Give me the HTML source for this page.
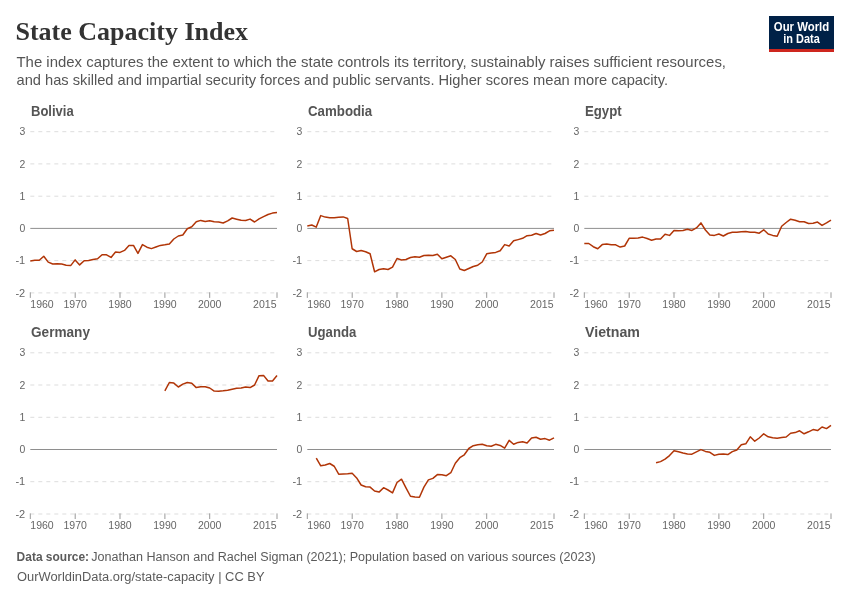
<!DOCTYPE html><html><head><meta charset="utf-8"><title>State Capacity Index</title><style>html,body{margin:0;padding:0;background:#fff;width:850px;height:600px;overflow:hidden}svg{display:block;will-change:transform}</style></head><body>
<svg width="850" height="600" viewBox="0 0 850 600">
<rect width="850" height="600" fill="#fff"/>
<text x="15.5" y="40.3" font-family='"Liberation Serif", serif' font-weight="bold" font-size="26" fill="#333" textLength="232.5" lengthAdjust="spacingAndGlyphs">State Capacity Index</text>
<text x="16.5" y="66.6" font-family='"Liberation Sans", sans-serif' font-size="14.2" fill="#555" textLength="709.5" lengthAdjust="spacingAndGlyphs">The index captures the extent to which the state controls its territory, sustainably raises sufficient resources,</text>
<text x="16.5" y="84.5" font-family='"Liberation Sans", sans-serif' font-size="14.2" fill="#555" textLength="651.5" lengthAdjust="spacingAndGlyphs">and has skilled and impartial security forces and public servants. Higher scores mean more capacity.</text>
<rect x="769" y="16" width="65" height="36" fill="#002147"/>
<rect x="769" y="49" width="65" height="3" fill="#ce261e"/>
<text x="773.8" y="30.7" font-family='"Liberation Sans", sans-serif' font-weight="bold" font-size="12.3" fill="#fff" textLength="55.4" lengthAdjust="spacingAndGlyphs">Our World</text>
<text x="783.3" y="42.9" font-family='"Liberation Sans", sans-serif' font-weight="bold" font-size="12.3" fill="#fff" textLength="36.5" lengthAdjust="spacingAndGlyphs">in Data</text>
<text x="31.0" y="115.9" font-family='"Liberation Sans", sans-serif' font-weight="bold" font-size="14" fill="#555" textLength="42.7" lengthAdjust="spacingAndGlyphs">Bolivia</text>
<line x1="30.3" y1="131.7" x2="277.0" y2="131.7" stroke="#ddd" stroke-width="1" stroke-dasharray="4,4"/>
<line x1="30.3" y1="163.9" x2="277.0" y2="163.9" stroke="#ddd" stroke-width="1" stroke-dasharray="4,4"/>
<line x1="30.3" y1="196.2" x2="277.0" y2="196.2" stroke="#ddd" stroke-width="1" stroke-dasharray="4,4"/>
<line x1="30.3" y1="260.6" x2="277.0" y2="260.6" stroke="#ddd" stroke-width="1" stroke-dasharray="4,4"/>
<line x1="30.3" y1="292.9" x2="277.0" y2="292.9" stroke="#ddd" stroke-width="1" stroke-dasharray="4,4"/>
<line x1="30.3" y1="228.4" x2="277.0" y2="228.4" stroke="#8e8e8e" stroke-width="1"/>
<text x="25.2" y="135.3" text-anchor="end" font-family='"Liberation Sans", sans-serif' font-size="10" fill="#666" textLength="5.8" lengthAdjust="spacingAndGlyphs">3</text>
<text x="25.2" y="167.5" text-anchor="end" font-family='"Liberation Sans", sans-serif' font-size="10" fill="#666" textLength="5.8" lengthAdjust="spacingAndGlyphs">2</text>
<text x="25.2" y="199.8" text-anchor="end" font-family='"Liberation Sans", sans-serif' font-size="10" fill="#666" textLength="5.8" lengthAdjust="spacingAndGlyphs">1</text>
<text x="25.2" y="232.0" text-anchor="end" font-family='"Liberation Sans", sans-serif' font-size="10" fill="#666" textLength="5.8" lengthAdjust="spacingAndGlyphs">0</text>
<text x="25.2" y="264.2" text-anchor="end" font-family='"Liberation Sans", sans-serif' font-size="10" fill="#666" textLength="9.8" lengthAdjust="spacingAndGlyphs">-1</text>
<text x="25.2" y="296.5" text-anchor="end" font-family='"Liberation Sans", sans-serif' font-size="10" fill="#666" textLength="9.8" lengthAdjust="spacingAndGlyphs">-2</text>
<line x1="30.3" y1="292.3" x2="30.3" y2="297.9" stroke="#999" stroke-width="1"/>
<line x1="75.2" y1="292.3" x2="75.2" y2="297.9" stroke="#999" stroke-width="1"/>
<line x1="120.0" y1="292.3" x2="120.0" y2="297.9" stroke="#999" stroke-width="1"/>
<line x1="164.9" y1="292.3" x2="164.9" y2="297.9" stroke="#999" stroke-width="1"/>
<line x1="209.7" y1="292.3" x2="209.7" y2="297.9" stroke="#999" stroke-width="1"/>
<line x1="277.0" y1="292.3" x2="277.0" y2="297.9" stroke="#999" stroke-width="1"/>
<text x="30.3" y="307.9" font-family='"Liberation Sans", sans-serif' font-size="10" fill="#666" textLength="23.4" lengthAdjust="spacingAndGlyphs">1960</text>
<text x="75.2" y="307.9" text-anchor="middle" font-family='"Liberation Sans", sans-serif' font-size="10" fill="#666" textLength="23.4" lengthAdjust="spacingAndGlyphs">1970</text>
<text x="120.0" y="307.9" text-anchor="middle" font-family='"Liberation Sans", sans-serif' font-size="10" fill="#666" textLength="23.4" lengthAdjust="spacingAndGlyphs">1980</text>
<text x="164.9" y="307.9" text-anchor="middle" font-family='"Liberation Sans", sans-serif' font-size="10" fill="#666" textLength="23.4" lengthAdjust="spacingAndGlyphs">1990</text>
<text x="209.7" y="307.9" text-anchor="middle" font-family='"Liberation Sans", sans-serif' font-size="10" fill="#666" textLength="23.4" lengthAdjust="spacingAndGlyphs">2000</text>
<text x="276.5" y="307.9" text-anchor="end" font-family='"Liberation Sans", sans-serif' font-size="10" fill="#666" textLength="23.4" lengthAdjust="spacingAndGlyphs">2015</text>
<polyline points="30.30,260.90 34.79,260.30 39.27,260.30 43.76,256.30 48.24,262.10 52.73,264.00 57.21,263.70 61.70,264.00 66.18,265.20 70.67,265.60 75.15,259.90 79.64,264.90 84.13,260.70 88.61,260.60 93.10,259.60 97.58,258.80 102.07,254.70 106.55,254.80 111.04,257.40 115.52,252.00 120.01,252.40 124.49,250.40 128.98,245.60 133.47,245.40 137.95,253.40 142.44,244.60 146.92,247.20 151.41,248.60 155.89,247.00 160.38,245.40 164.86,244.80 169.35,244.00 173.83,239.00 178.32,236.00 182.81,235.00 187.29,228.75 191.78,226.80 196.26,221.80 200.75,220.40 205.23,221.50 209.72,220.80 214.20,221.80 218.69,222.10 223.17,222.95 227.66,220.90 232.15,218.00 236.63,219.20 241.12,220.30 245.60,220.50 250.09,219.10 254.57,222.00 259.06,218.90 263.54,216.60 268.03,214.50 272.51,213.10 277.00,212.40" fill="none" stroke="#b13507" stroke-width="1.5" stroke-linejoin="round" stroke-linecap="butt"/>
<text x="308.0" y="115.9" font-family='"Liberation Sans", sans-serif' font-weight="bold" font-size="14" fill="#555" textLength="64.2" lengthAdjust="spacingAndGlyphs">Cambodia</text>
<line x1="307.3" y1="131.7" x2="554.0" y2="131.7" stroke="#ddd" stroke-width="1" stroke-dasharray="4,4"/>
<line x1="307.3" y1="163.9" x2="554.0" y2="163.9" stroke="#ddd" stroke-width="1" stroke-dasharray="4,4"/>
<line x1="307.3" y1="196.2" x2="554.0" y2="196.2" stroke="#ddd" stroke-width="1" stroke-dasharray="4,4"/>
<line x1="307.3" y1="260.6" x2="554.0" y2="260.6" stroke="#ddd" stroke-width="1" stroke-dasharray="4,4"/>
<line x1="307.3" y1="292.9" x2="554.0" y2="292.9" stroke="#ddd" stroke-width="1" stroke-dasharray="4,4"/>
<line x1="307.3" y1="228.4" x2="554.0" y2="228.4" stroke="#8e8e8e" stroke-width="1"/>
<text x="302.2" y="135.3" text-anchor="end" font-family='"Liberation Sans", sans-serif' font-size="10" fill="#666" textLength="5.8" lengthAdjust="spacingAndGlyphs">3</text>
<text x="302.2" y="167.5" text-anchor="end" font-family='"Liberation Sans", sans-serif' font-size="10" fill="#666" textLength="5.8" lengthAdjust="spacingAndGlyphs">2</text>
<text x="302.2" y="199.8" text-anchor="end" font-family='"Liberation Sans", sans-serif' font-size="10" fill="#666" textLength="5.8" lengthAdjust="spacingAndGlyphs">1</text>
<text x="302.2" y="232.0" text-anchor="end" font-family='"Liberation Sans", sans-serif' font-size="10" fill="#666" textLength="5.8" lengthAdjust="spacingAndGlyphs">0</text>
<text x="302.2" y="264.2" text-anchor="end" font-family='"Liberation Sans", sans-serif' font-size="10" fill="#666" textLength="9.8" lengthAdjust="spacingAndGlyphs">-1</text>
<text x="302.2" y="296.5" text-anchor="end" font-family='"Liberation Sans", sans-serif' font-size="10" fill="#666" textLength="9.8" lengthAdjust="spacingAndGlyphs">-2</text>
<line x1="307.3" y1="292.3" x2="307.3" y2="297.9" stroke="#999" stroke-width="1"/>
<line x1="352.2" y1="292.3" x2="352.2" y2="297.9" stroke="#999" stroke-width="1"/>
<line x1="397.0" y1="292.3" x2="397.0" y2="297.9" stroke="#999" stroke-width="1"/>
<line x1="441.9" y1="292.3" x2="441.9" y2="297.9" stroke="#999" stroke-width="1"/>
<line x1="486.7" y1="292.3" x2="486.7" y2="297.9" stroke="#999" stroke-width="1"/>
<line x1="554.0" y1="292.3" x2="554.0" y2="297.9" stroke="#999" stroke-width="1"/>
<text x="307.3" y="307.9" font-family='"Liberation Sans", sans-serif' font-size="10" fill="#666" textLength="23.4" lengthAdjust="spacingAndGlyphs">1960</text>
<text x="352.2" y="307.9" text-anchor="middle" font-family='"Liberation Sans", sans-serif' font-size="10" fill="#666" textLength="23.4" lengthAdjust="spacingAndGlyphs">1970</text>
<text x="397.0" y="307.9" text-anchor="middle" font-family='"Liberation Sans", sans-serif' font-size="10" fill="#666" textLength="23.4" lengthAdjust="spacingAndGlyphs">1980</text>
<text x="441.9" y="307.9" text-anchor="middle" font-family='"Liberation Sans", sans-serif' font-size="10" fill="#666" textLength="23.4" lengthAdjust="spacingAndGlyphs">1990</text>
<text x="486.7" y="307.9" text-anchor="middle" font-family='"Liberation Sans", sans-serif' font-size="10" fill="#666" textLength="23.4" lengthAdjust="spacingAndGlyphs">2000</text>
<text x="553.5" y="307.9" text-anchor="end" font-family='"Liberation Sans", sans-serif' font-size="10" fill="#666" textLength="23.4" lengthAdjust="spacingAndGlyphs">2015</text>
<polyline points="307.30,225.90 311.79,225.00 316.27,227.10 320.76,215.60 325.24,217.10 329.73,217.75 334.21,217.75 338.70,217.25 343.18,216.90 347.67,218.50 352.15,248.75 356.64,251.50 361.13,250.60 365.61,251.70 370.10,253.80 374.58,271.80 379.07,269.50 383.55,268.70 388.04,269.50 392.52,267.20 397.01,258.50 401.49,260.00 405.98,259.50 410.47,257.50 414.95,256.80 419.44,257.20 423.92,255.50 428.41,255.20 432.89,255.50 437.38,254.20 441.86,258.80 446.35,257.20 450.83,255.80 455.32,259.50 459.81,269.00 464.29,270.50 468.78,268.50 473.26,266.50 477.75,265.20 482.23,262.00 486.72,253.80 491.20,253.00 495.69,252.40 500.17,250.70 504.66,244.60 509.15,246.00 513.63,240.80 518.12,239.60 522.60,238.30 527.09,235.70 531.57,235.20 536.06,233.50 540.54,235.00 545.03,233.50 549.51,230.80 554.00,230.20" fill="none" stroke="#b13507" stroke-width="1.5" stroke-linejoin="round" stroke-linecap="butt"/>
<text x="585.0" y="115.9" font-family='"Liberation Sans", sans-serif' font-weight="bold" font-size="14" fill="#555" textLength="36.6" lengthAdjust="spacingAndGlyphs">Egypt</text>
<line x1="584.3" y1="131.7" x2="831.0" y2="131.7" stroke="#ddd" stroke-width="1" stroke-dasharray="4,4"/>
<line x1="584.3" y1="163.9" x2="831.0" y2="163.9" stroke="#ddd" stroke-width="1" stroke-dasharray="4,4"/>
<line x1="584.3" y1="196.2" x2="831.0" y2="196.2" stroke="#ddd" stroke-width="1" stroke-dasharray="4,4"/>
<line x1="584.3" y1="260.6" x2="831.0" y2="260.6" stroke="#ddd" stroke-width="1" stroke-dasharray="4,4"/>
<line x1="584.3" y1="292.9" x2="831.0" y2="292.9" stroke="#ddd" stroke-width="1" stroke-dasharray="4,4"/>
<line x1="584.3" y1="228.4" x2="831.0" y2="228.4" stroke="#8e8e8e" stroke-width="1"/>
<text x="579.2" y="135.3" text-anchor="end" font-family='"Liberation Sans", sans-serif' font-size="10" fill="#666" textLength="5.8" lengthAdjust="spacingAndGlyphs">3</text>
<text x="579.2" y="167.5" text-anchor="end" font-family='"Liberation Sans", sans-serif' font-size="10" fill="#666" textLength="5.8" lengthAdjust="spacingAndGlyphs">2</text>
<text x="579.2" y="199.8" text-anchor="end" font-family='"Liberation Sans", sans-serif' font-size="10" fill="#666" textLength="5.8" lengthAdjust="spacingAndGlyphs">1</text>
<text x="579.2" y="232.0" text-anchor="end" font-family='"Liberation Sans", sans-serif' font-size="10" fill="#666" textLength="5.8" lengthAdjust="spacingAndGlyphs">0</text>
<text x="579.2" y="264.2" text-anchor="end" font-family='"Liberation Sans", sans-serif' font-size="10" fill="#666" textLength="9.8" lengthAdjust="spacingAndGlyphs">-1</text>
<text x="579.2" y="296.5" text-anchor="end" font-family='"Liberation Sans", sans-serif' font-size="10" fill="#666" textLength="9.8" lengthAdjust="spacingAndGlyphs">-2</text>
<line x1="584.3" y1="292.3" x2="584.3" y2="297.9" stroke="#999" stroke-width="1"/>
<line x1="629.2" y1="292.3" x2="629.2" y2="297.9" stroke="#999" stroke-width="1"/>
<line x1="674.0" y1="292.3" x2="674.0" y2="297.9" stroke="#999" stroke-width="1"/>
<line x1="718.9" y1="292.3" x2="718.9" y2="297.9" stroke="#999" stroke-width="1"/>
<line x1="763.7" y1="292.3" x2="763.7" y2="297.9" stroke="#999" stroke-width="1"/>
<line x1="831.0" y1="292.3" x2="831.0" y2="297.9" stroke="#999" stroke-width="1"/>
<text x="584.3" y="307.9" font-family='"Liberation Sans", sans-serif' font-size="10" fill="#666" textLength="23.4" lengthAdjust="spacingAndGlyphs">1960</text>
<text x="629.2" y="307.9" text-anchor="middle" font-family='"Liberation Sans", sans-serif' font-size="10" fill="#666" textLength="23.4" lengthAdjust="spacingAndGlyphs">1970</text>
<text x="674.0" y="307.9" text-anchor="middle" font-family='"Liberation Sans", sans-serif' font-size="10" fill="#666" textLength="23.4" lengthAdjust="spacingAndGlyphs">1980</text>
<text x="718.9" y="307.9" text-anchor="middle" font-family='"Liberation Sans", sans-serif' font-size="10" fill="#666" textLength="23.4" lengthAdjust="spacingAndGlyphs">1990</text>
<text x="763.7" y="307.9" text-anchor="middle" font-family='"Liberation Sans", sans-serif' font-size="10" fill="#666" textLength="23.4" lengthAdjust="spacingAndGlyphs">2000</text>
<text x="830.5" y="307.9" text-anchor="end" font-family='"Liberation Sans", sans-serif' font-size="10" fill="#666" textLength="23.4" lengthAdjust="spacingAndGlyphs">2015</text>
<polyline points="584.30,243.50 588.79,243.50 593.27,246.70 597.76,248.75 602.24,244.60 606.73,244.00 611.21,244.80 615.70,244.80 620.18,247.10 624.67,246.00 629.15,238.30 633.64,238.20 638.13,237.90 642.61,237.10 647.10,238.50 651.58,240.20 656.07,239.00 660.55,239.00 665.04,234.20 669.52,235.40 674.01,230.40 678.49,230.80 682.98,230.40 687.47,229.30 691.95,230.40 696.44,227.90 700.92,222.90 705.41,230.00 709.89,235.10 714.38,235.40 718.86,234.00 723.35,236.00 727.83,233.50 732.32,232.30 736.81,232.30 741.29,231.80 745.78,231.50 750.26,232.30 754.75,232.30 759.23,233.20 763.72,229.80 768.20,234.00 772.69,235.40 777.17,236.25 781.66,226.25 786.15,222.50 790.63,219.20 795.12,220.20 799.60,221.70 804.09,221.70 808.57,223.50 813.06,223.20 817.54,222.10 822.03,225.40 826.51,222.90 831.00,220.20" fill="none" stroke="#b13507" stroke-width="1.5" stroke-linejoin="round" stroke-linecap="butt"/>
<text x="31.0" y="337.0" font-family='"Liberation Sans", sans-serif' font-weight="bold" font-size="14" fill="#555" textLength="59.0" lengthAdjust="spacingAndGlyphs">Germany</text>
<line x1="30.3" y1="352.8" x2="277.0" y2="352.8" stroke="#ddd" stroke-width="1" stroke-dasharray="4,4"/>
<line x1="30.3" y1="385.0" x2="277.0" y2="385.0" stroke="#ddd" stroke-width="1" stroke-dasharray="4,4"/>
<line x1="30.3" y1="417.3" x2="277.0" y2="417.3" stroke="#ddd" stroke-width="1" stroke-dasharray="4,4"/>
<line x1="30.3" y1="481.7" x2="277.0" y2="481.7" stroke="#ddd" stroke-width="1" stroke-dasharray="4,4"/>
<line x1="30.3" y1="514.0" x2="277.0" y2="514.0" stroke="#ddd" stroke-width="1" stroke-dasharray="4,4"/>
<line x1="30.3" y1="449.5" x2="277.0" y2="449.5" stroke="#8e8e8e" stroke-width="1"/>
<text x="25.2" y="356.4" text-anchor="end" font-family='"Liberation Sans", sans-serif' font-size="10" fill="#666" textLength="5.8" lengthAdjust="spacingAndGlyphs">3</text>
<text x="25.2" y="388.6" text-anchor="end" font-family='"Liberation Sans", sans-serif' font-size="10" fill="#666" textLength="5.8" lengthAdjust="spacingAndGlyphs">2</text>
<text x="25.2" y="420.9" text-anchor="end" font-family='"Liberation Sans", sans-serif' font-size="10" fill="#666" textLength="5.8" lengthAdjust="spacingAndGlyphs">1</text>
<text x="25.2" y="453.1" text-anchor="end" font-family='"Liberation Sans", sans-serif' font-size="10" fill="#666" textLength="5.8" lengthAdjust="spacingAndGlyphs">0</text>
<text x="25.2" y="485.3" text-anchor="end" font-family='"Liberation Sans", sans-serif' font-size="10" fill="#666" textLength="9.8" lengthAdjust="spacingAndGlyphs">-1</text>
<text x="25.2" y="517.6" text-anchor="end" font-family='"Liberation Sans", sans-serif' font-size="10" fill="#666" textLength="9.8" lengthAdjust="spacingAndGlyphs">-2</text>
<line x1="30.3" y1="513.4" x2="30.3" y2="519.0" stroke="#999" stroke-width="1"/>
<line x1="75.2" y1="513.4" x2="75.2" y2="519.0" stroke="#999" stroke-width="1"/>
<line x1="120.0" y1="513.4" x2="120.0" y2="519.0" stroke="#999" stroke-width="1"/>
<line x1="164.9" y1="513.4" x2="164.9" y2="519.0" stroke="#999" stroke-width="1"/>
<line x1="209.7" y1="513.4" x2="209.7" y2="519.0" stroke="#999" stroke-width="1"/>
<line x1="277.0" y1="513.4" x2="277.0" y2="519.0" stroke="#999" stroke-width="1"/>
<text x="30.3" y="529.0" font-family='"Liberation Sans", sans-serif' font-size="10" fill="#666" textLength="23.4" lengthAdjust="spacingAndGlyphs">1960</text>
<text x="75.2" y="529.0" text-anchor="middle" font-family='"Liberation Sans", sans-serif' font-size="10" fill="#666" textLength="23.4" lengthAdjust="spacingAndGlyphs">1970</text>
<text x="120.0" y="529.0" text-anchor="middle" font-family='"Liberation Sans", sans-serif' font-size="10" fill="#666" textLength="23.4" lengthAdjust="spacingAndGlyphs">1980</text>
<text x="164.9" y="529.0" text-anchor="middle" font-family='"Liberation Sans", sans-serif' font-size="10" fill="#666" textLength="23.4" lengthAdjust="spacingAndGlyphs">1990</text>
<text x="209.7" y="529.0" text-anchor="middle" font-family='"Liberation Sans", sans-serif' font-size="10" fill="#666" textLength="23.4" lengthAdjust="spacingAndGlyphs">2000</text>
<text x="276.5" y="529.0" text-anchor="end" font-family='"Liberation Sans", sans-serif' font-size="10" fill="#666" textLength="23.4" lengthAdjust="spacingAndGlyphs">2015</text>
<polyline points="164.86,390.90 169.35,382.50 173.83,383.10 178.32,387.00 182.81,384.10 187.29,382.50 191.78,383.20 196.26,387.60 200.75,386.70 205.23,386.70 209.72,388.00 214.20,391.10 218.69,391.15 223.17,390.75 227.66,390.20 232.15,389.20 236.63,388.20 241.12,388.00 245.60,387.00 250.09,387.60 254.57,385.00 259.06,375.70 263.54,375.40 268.03,381.00 272.51,381.00 277.00,375.50" fill="none" stroke="#b13507" stroke-width="1.5" stroke-linejoin="round" stroke-linecap="butt"/>
<text x="308.0" y="337.0" font-family='"Liberation Sans", sans-serif' font-weight="bold" font-size="14" fill="#555" textLength="48.3" lengthAdjust="spacingAndGlyphs">Uganda</text>
<line x1="307.3" y1="352.8" x2="554.0" y2="352.8" stroke="#ddd" stroke-width="1" stroke-dasharray="4,4"/>
<line x1="307.3" y1="385.0" x2="554.0" y2="385.0" stroke="#ddd" stroke-width="1" stroke-dasharray="4,4"/>
<line x1="307.3" y1="417.3" x2="554.0" y2="417.3" stroke="#ddd" stroke-width="1" stroke-dasharray="4,4"/>
<line x1="307.3" y1="481.7" x2="554.0" y2="481.7" stroke="#ddd" stroke-width="1" stroke-dasharray="4,4"/>
<line x1="307.3" y1="514.0" x2="554.0" y2="514.0" stroke="#ddd" stroke-width="1" stroke-dasharray="4,4"/>
<line x1="307.3" y1="449.5" x2="554.0" y2="449.5" stroke="#8e8e8e" stroke-width="1"/>
<text x="302.2" y="356.4" text-anchor="end" font-family='"Liberation Sans", sans-serif' font-size="10" fill="#666" textLength="5.8" lengthAdjust="spacingAndGlyphs">3</text>
<text x="302.2" y="388.6" text-anchor="end" font-family='"Liberation Sans", sans-serif' font-size="10" fill="#666" textLength="5.8" lengthAdjust="spacingAndGlyphs">2</text>
<text x="302.2" y="420.9" text-anchor="end" font-family='"Liberation Sans", sans-serif' font-size="10" fill="#666" textLength="5.8" lengthAdjust="spacingAndGlyphs">1</text>
<text x="302.2" y="453.1" text-anchor="end" font-family='"Liberation Sans", sans-serif' font-size="10" fill="#666" textLength="5.8" lengthAdjust="spacingAndGlyphs">0</text>
<text x="302.2" y="485.3" text-anchor="end" font-family='"Liberation Sans", sans-serif' font-size="10" fill="#666" textLength="9.8" lengthAdjust="spacingAndGlyphs">-1</text>
<text x="302.2" y="517.6" text-anchor="end" font-family='"Liberation Sans", sans-serif' font-size="10" fill="#666" textLength="9.8" lengthAdjust="spacingAndGlyphs">-2</text>
<line x1="307.3" y1="513.4" x2="307.3" y2="519.0" stroke="#999" stroke-width="1"/>
<line x1="352.2" y1="513.4" x2="352.2" y2="519.0" stroke="#999" stroke-width="1"/>
<line x1="397.0" y1="513.4" x2="397.0" y2="519.0" stroke="#999" stroke-width="1"/>
<line x1="441.9" y1="513.4" x2="441.9" y2="519.0" stroke="#999" stroke-width="1"/>
<line x1="486.7" y1="513.4" x2="486.7" y2="519.0" stroke="#999" stroke-width="1"/>
<line x1="554.0" y1="513.4" x2="554.0" y2="519.0" stroke="#999" stroke-width="1"/>
<text x="307.3" y="529.0" font-family='"Liberation Sans", sans-serif' font-size="10" fill="#666" textLength="23.4" lengthAdjust="spacingAndGlyphs">1960</text>
<text x="352.2" y="529.0" text-anchor="middle" font-family='"Liberation Sans", sans-serif' font-size="10" fill="#666" textLength="23.4" lengthAdjust="spacingAndGlyphs">1970</text>
<text x="397.0" y="529.0" text-anchor="middle" font-family='"Liberation Sans", sans-serif' font-size="10" fill="#666" textLength="23.4" lengthAdjust="spacingAndGlyphs">1980</text>
<text x="441.9" y="529.0" text-anchor="middle" font-family='"Liberation Sans", sans-serif' font-size="10" fill="#666" textLength="23.4" lengthAdjust="spacingAndGlyphs">1990</text>
<text x="486.7" y="529.0" text-anchor="middle" font-family='"Liberation Sans", sans-serif' font-size="10" fill="#666" textLength="23.4" lengthAdjust="spacingAndGlyphs">2000</text>
<text x="553.5" y="529.0" text-anchor="end" font-family='"Liberation Sans", sans-serif' font-size="10" fill="#666" textLength="23.4" lengthAdjust="spacingAndGlyphs">2015</text>
<polyline points="316.27,458.20 320.76,465.80 325.24,465.00 329.73,463.50 334.21,466.25 338.70,474.20 343.18,474.00 347.67,473.75 352.15,473.30 356.64,477.90 361.13,485.00 365.61,486.75 370.10,487.10 374.58,491.00 379.07,492.10 383.55,487.70 388.04,490.00 392.52,492.90 397.01,482.50 401.49,479.20 405.98,487.90 410.47,496.25 414.95,497.10 419.44,497.30 423.92,487.10 428.41,479.90 432.89,478.40 437.38,474.60 441.86,474.80 446.35,475.70 450.83,472.70 455.32,463.30 459.81,457.70 464.29,454.80 468.78,448.50 473.26,445.70 477.75,444.80 482.23,444.30 486.72,445.80 491.20,446.20 495.69,444.35 500.17,445.40 504.66,448.20 509.15,440.40 513.63,444.20 518.12,442.40 522.60,441.80 527.09,443.00 531.57,438.00 536.06,437.20 540.54,439.20 545.03,438.60 549.51,440.20 554.00,437.80" fill="none" stroke="#b13507" stroke-width="1.5" stroke-linejoin="round" stroke-linecap="butt"/>
<text x="585.0" y="337.0" font-family='"Liberation Sans", sans-serif' font-weight="bold" font-size="14" fill="#555" textLength="54.9" lengthAdjust="spacingAndGlyphs">Vietnam</text>
<line x1="584.3" y1="352.8" x2="831.0" y2="352.8" stroke="#ddd" stroke-width="1" stroke-dasharray="4,4"/>
<line x1="584.3" y1="385.0" x2="831.0" y2="385.0" stroke="#ddd" stroke-width="1" stroke-dasharray="4,4"/>
<line x1="584.3" y1="417.3" x2="831.0" y2="417.3" stroke="#ddd" stroke-width="1" stroke-dasharray="4,4"/>
<line x1="584.3" y1="481.7" x2="831.0" y2="481.7" stroke="#ddd" stroke-width="1" stroke-dasharray="4,4"/>
<line x1="584.3" y1="514.0" x2="831.0" y2="514.0" stroke="#ddd" stroke-width="1" stroke-dasharray="4,4"/>
<line x1="584.3" y1="449.5" x2="831.0" y2="449.5" stroke="#8e8e8e" stroke-width="1"/>
<text x="579.2" y="356.4" text-anchor="end" font-family='"Liberation Sans", sans-serif' font-size="10" fill="#666" textLength="5.8" lengthAdjust="spacingAndGlyphs">3</text>
<text x="579.2" y="388.6" text-anchor="end" font-family='"Liberation Sans", sans-serif' font-size="10" fill="#666" textLength="5.8" lengthAdjust="spacingAndGlyphs">2</text>
<text x="579.2" y="420.9" text-anchor="end" font-family='"Liberation Sans", sans-serif' font-size="10" fill="#666" textLength="5.8" lengthAdjust="spacingAndGlyphs">1</text>
<text x="579.2" y="453.1" text-anchor="end" font-family='"Liberation Sans", sans-serif' font-size="10" fill="#666" textLength="5.8" lengthAdjust="spacingAndGlyphs">0</text>
<text x="579.2" y="485.3" text-anchor="end" font-family='"Liberation Sans", sans-serif' font-size="10" fill="#666" textLength="9.8" lengthAdjust="spacingAndGlyphs">-1</text>
<text x="579.2" y="517.6" text-anchor="end" font-family='"Liberation Sans", sans-serif' font-size="10" fill="#666" textLength="9.8" lengthAdjust="spacingAndGlyphs">-2</text>
<line x1="584.3" y1="513.4" x2="584.3" y2="519.0" stroke="#999" stroke-width="1"/>
<line x1="629.2" y1="513.4" x2="629.2" y2="519.0" stroke="#999" stroke-width="1"/>
<line x1="674.0" y1="513.4" x2="674.0" y2="519.0" stroke="#999" stroke-width="1"/>
<line x1="718.9" y1="513.4" x2="718.9" y2="519.0" stroke="#999" stroke-width="1"/>
<line x1="763.7" y1="513.4" x2="763.7" y2="519.0" stroke="#999" stroke-width="1"/>
<line x1="831.0" y1="513.4" x2="831.0" y2="519.0" stroke="#999" stroke-width="1"/>
<text x="584.3" y="529.0" font-family='"Liberation Sans", sans-serif' font-size="10" fill="#666" textLength="23.4" lengthAdjust="spacingAndGlyphs">1960</text>
<text x="629.2" y="529.0" text-anchor="middle" font-family='"Liberation Sans", sans-serif' font-size="10" fill="#666" textLength="23.4" lengthAdjust="spacingAndGlyphs">1970</text>
<text x="674.0" y="529.0" text-anchor="middle" font-family='"Liberation Sans", sans-serif' font-size="10" fill="#666" textLength="23.4" lengthAdjust="spacingAndGlyphs">1980</text>
<text x="718.9" y="529.0" text-anchor="middle" font-family='"Liberation Sans", sans-serif' font-size="10" fill="#666" textLength="23.4" lengthAdjust="spacingAndGlyphs">1990</text>
<text x="763.7" y="529.0" text-anchor="middle" font-family='"Liberation Sans", sans-serif' font-size="10" fill="#666" textLength="23.4" lengthAdjust="spacingAndGlyphs">2000</text>
<text x="830.5" y="529.0" text-anchor="end" font-family='"Liberation Sans", sans-serif' font-size="10" fill="#666" textLength="23.4" lengthAdjust="spacingAndGlyphs">2015</text>
<polyline points="656.07,462.80 660.55,461.60 665.04,459.20 669.52,455.60 674.01,450.80 678.49,451.80 682.98,453.00 687.47,454.00 691.95,454.20 696.44,451.80 700.92,449.60 705.41,451.40 709.89,452.30 714.38,455.40 718.86,454.20 723.35,454.00 727.83,454.60 732.32,451.60 736.81,450.00 741.29,444.80 745.78,443.80 750.26,436.80 754.75,441.20 759.23,438.00 763.72,433.80 768.20,436.80 772.69,437.80 777.17,438.20 781.66,437.60 786.15,437.00 790.63,433.20 795.12,432.60 799.60,430.80 804.09,433.80 808.57,431.80 813.06,429.60 817.54,430.60 822.03,427.00 826.51,428.60 831.00,425.40" fill="none" stroke="#b13507" stroke-width="1.5" stroke-linejoin="round" stroke-linecap="butt"/>
<text x="16.6" y="560.8" font-family='"Liberation Sans", sans-serif' font-weight="bold" font-size="12.5" fill="#5b5b5b" textLength="72.5" lengthAdjust="spacingAndGlyphs">Data source:</text>
<text x="91.2" y="560.8" font-family='"Liberation Sans", sans-serif' font-size="12.5" fill="#5b5b5b" textLength="504.5" lengthAdjust="spacingAndGlyphs">Jonathan Hanson and Rachel Sigman (2021); Population based on various sources (2023)</text>
<text x="17" y="580.9" font-family='"Liberation Sans", sans-serif' font-size="12.5" fill="#5b5b5b" textLength="247.5" lengthAdjust="spacingAndGlyphs">OurWorldinData.org/state-capacity | CC BY</text>
</svg></body></html>
